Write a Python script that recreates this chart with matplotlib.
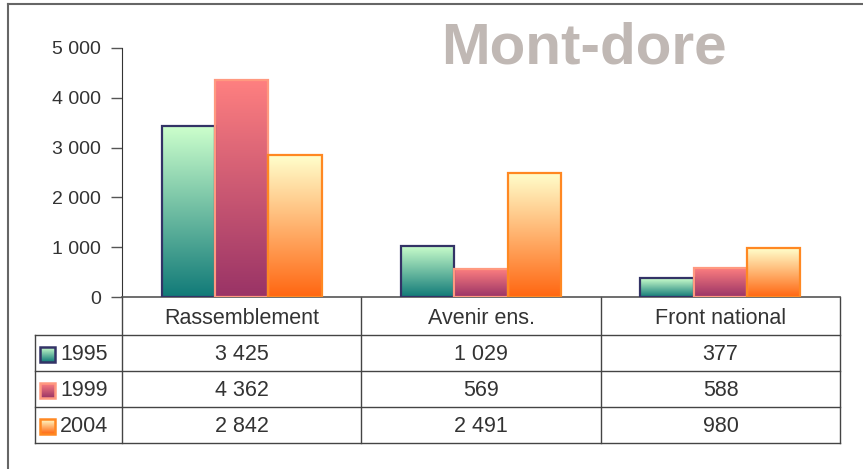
import numpy as np
import matplotlib.pyplot as plt
from matplotlib.colors import LinearSegmentedColormap
from matplotlib.patches import Rectangle

categories = ["Rassemblement", "Avenir ens.", "Front national"]
years = ["1995", "1999", "2004"]
v1995 = [3425, 1029, 377]
v1999 = [4362, 569, 588]
v2004 = [2842, 2491, 980]
series = [v1995, v1999, v2004]

# gradient (bottom, top) and edge colour per series
grads = [("#117a78", "#ccffcc"), ("#993366", "#ff8080"), ("#ff6611", "#ffffcc")]
edges = ["#333366", "#ff9980", "#ff8822"]
text_col = "#333333"

plt.rcParams['font.family'] = ['Liberation Sans', 'DejaVu Sans']

W, H = 863, 469
fig = plt.figure(figsize=(W / 100, H / 100), dpi=100)

# overlay axes in pixel coordinates for frame and table
ov = fig.add_axes([0, 0, 1, 1])
ov.set_xlim(0, W)
ov.set_ylim(H, 0)
ov.axis("off")

x_left, x_right = 122, 840
y_top, y_zero = 48, 297
ax = fig.add_axes([x_left / W, (H - y_zero) / H, (x_right - x_left) / W, (y_zero - y_top) / H])
ax.patch.set_alpha(0)

bw = 0.223
offsets = [-bw, 0, bw]
for s, vals in enumerate(series):
    cmap = LinearSegmentedColormap.from_list("g%d" % s, grads[s])
    grad = np.linspace(0, 1, 256).reshape(-1, 1)
    for i, v in enumerate(vals):
        x0 = i + offsets[s] - bw / 2
        ax.imshow(grad, cmap=cmap, origin="lower", aspect="auto",
                  extent=(x0, x0 + bw, 0, v), zorder=2)
        ax.add_patch(Rectangle((x0, 0), bw, v, fill=False, edgecolor=edges[s],
                               linewidth=1.6, zorder=3))
ax.set_xlim(-0.5, 2.5)
ax.set_ylim(0, 5000)

ax.set_yticks(range(0, 5001, 1000))
ax.set_yticklabels([f"{t:,}".replace(",", " ") for t in range(0, 5001, 1000)])
ax.tick_params(axis="y", length=8, width=1, color="#555555", labelsize=14,
               labelcolor=text_col, pad=7)
ax.set_xticks([])
for sp in ["top", "right"]:
    ax.spines[sp].set_visible(False)
ax.spines["left"].set_color("#333333")
ax.spines["bottom"].set_color("#555555")
ax.spines["bottom"].set_linewidth(1.2)

# title
ov.text(584, 63, "Mont-dore", ha="center", va="baseline",
        fontsize=42, fontweight="bold", color="#c0b8b4")

# outer frame
ov.plot([8, 8], [4, H], color="#666666", lw=1.5)
ov.plot([8, W], [4, 4], color="#666666", lw=1.5)

# data table
col_x = [122, 361, 601, 840]
row_y = [297, 335, 371, 407, 443]
lc = "#444444"
for x in col_x:
    ov.plot([x, x], [row_y[0], row_y[-1]], color=lc, lw=1)
ov.plot([35, 35], [row_y[1], row_y[-1]], color=lc, lw=1)
for y in row_y[1:]:
    ov.plot([35, 840], [y, y], color=lc, lw=1)

fs = 15.5
for i, c in enumerate(categories):
    ov.text((col_x[i] + col_x[i + 1]) / 2, (row_y[0] + row_y[1]) / 2 + 2, c,
            ha="center", va="center", fontsize=fs, color=text_col)

for s, vals in enumerate(series):
    yc = (row_y[s + 1] + row_y[s + 2]) / 2 + 2
    # legend key
    cmap = LinearSegmentedColormap.from_list("k%d" % s, grads[s])
    ov.imshow(np.linspace(0, 1, 64).reshape(-1, 1), cmap=cmap, origin="lower",
              aspect="auto", extent=(40, 55, yc + 7, yc - 8), zorder=2)
    ov.add_patch(Rectangle((40, yc - 8), 15, 15, fill=False, edgecolor=edges[s],
                           lw=1.8, zorder=3))
    ov.text(60, yc, years[s], ha="left", va="center", fontsize=fs, color=text_col)
    for i, v in enumerate(vals):
        ov.text((col_x[i] + col_x[i + 1]) / 2, yc, f"{v:,}".replace(",", " "),
                ha="center", va="center", fontsize=fs, color=text_col)
ov.set_xlim(0, W)
ov.set_ylim(H, 0)

fig.savefig("out.png", dpi=100)
